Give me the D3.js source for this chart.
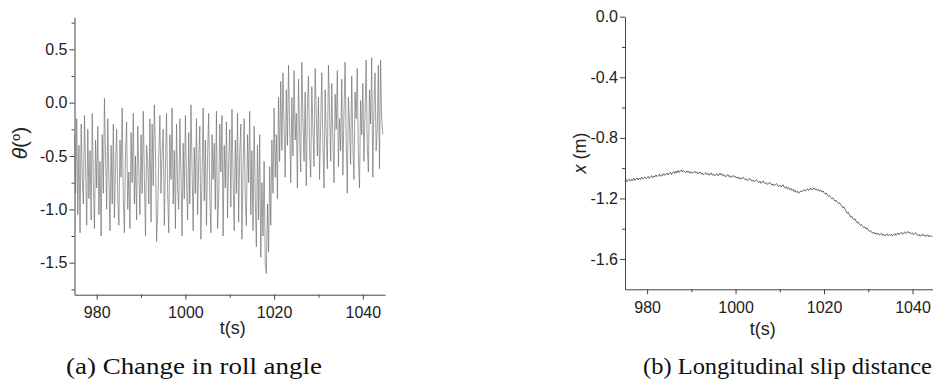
<!DOCTYPE html>
<html>
<head>
<meta charset="utf-8">
<script src="https://cdn.jsdelivr.net/npm/d3@7"></script>
<style>
  body { margin: 0; background: #fff; }
  svg { display: block; }
</style>
</head>
<body>
<script>
// both records start at 975 s, sampled every 0.25 s
const t0 = 975, step = 0.25;

// (a) roll angle, degrees
const roll = [
  -0.30,-0.85,-0.15,-1.05,-0.40,-1.22,-0.20,-0.70,-0.95,-0.12,-0.60,-1.15,-0.25,-0.90,-0.45,-1.10,-0.10,-0.75,-1.18,-0.35,
  -0.80,-0.22,-1.05,-0.55,-1.25,-0.30,-0.85,0.04,-0.50,-1.00,-0.15,-0.70,-1.20,-0.40,-0.95,-0.20,-1.08,-0.60,-0.25,-0.88,
  -1.15,-0.35,-0.70,-0.05,-0.90,-1.22,-0.45,-0.18,-1.00,-0.65,-1.18,-0.28,-0.75,-0.10,-0.95,-0.50,-1.10,-0.22,-0.62,-1.05,
  -0.30,-0.85,-0.08,-0.70,-1.25,-0.40,-0.55,-0.95,-0.15,-1.12,-0.20,-0.78,-0.02,-0.45,-1.30,-1.05,-0.50,-0.12,-0.85,-0.48,
  -0.25,-1.15,-0.60,-0.10,-0.85,-1.22,-0.30,-0.72,-0.05,-0.95,-0.45,-1.18,-0.20,-0.80,-1.00,-0.15,-0.68,-1.25,-0.38,-0.90,
  -0.12,-0.75,-1.10,-0.28,-0.95,-0.02,-0.60,-1.20,-0.42,-0.85,-0.15,-1.05,-0.55,-0.22,-1.28,-0.70,-0.05,-0.92,-0.35,-1.15,
  -0.50,-0.10,-0.88,-1.22,-0.30,-0.72,-0.38,-1.00,-0.08,-1.18,-0.90,-0.20,-0.65,-0.12,-1.25,-0.40,-0.80,-0.18,-1.08,-0.55,
  -0.25,-0.98,-0.06,-0.70,-1.20,-0.35,-0.85,-0.10,-1.12,-0.48,-0.20,-1.28,-0.62,-0.15,-0.92,-1.15,-0.30,-0.75,-0.08,-1.05,
  -0.45,-1.20,-0.22,-0.90,-1.35,-0.40,-1.10,-0.30,-1.45,-0.75,-1.25,-0.55,-1.50,-1.60,-0.95,-1.40,-0.60,-1.15,-0.35,-0.85,
  -0.05,-0.70,-0.30,-0.90,0.05,-0.55,0.20,-0.45,0.28,-0.25,-0.70,0.12,-0.40,0.35,-0.20,-0.75,0.05,-0.50,0.30,-0.35,
  -0.10,-0.80,0.22,-0.30,-0.65,0.38,-0.15,-0.55,0.10,-0.78,-0.05,0.25,-0.45,-0.70,0.15,-0.25,-0.60,0.32,-0.10,-0.50,
  0.05,-0.72,-0.20,0.28,-0.40,-0.80,0.12,-0.30,-0.62,0.35,-0.05,-0.55,0.18,-0.35,-0.75,0.08,-0.25,0.30,-0.60,-0.15,
  -0.45,0.22,-0.68,-0.10,0.38,-0.35,-0.85,0.05,-0.20,-0.58,0.25,-0.40,-0.72,0.10,-0.15,0.32,-0.50,-0.80,0.02,-0.30,
  0.18,-0.55,-0.10,0.40,-0.40,-0.65,0.12,-0.20,0.42,-0.70,-0.05,0.28,-0.45,-0.25,0.35,-0.62,0.40,-0.15,-0.30
];

// (b) longitudinal slip, metres
const slip = [
  -1.088,-1.075,-1.090,-1.078,-1.072,-1.086,-1.074,-1.082,-1.068,-1.080,-1.071,-1.064,-1.078,-1.066,-1.075,-1.060,-1.072,-1.063,-1.058,-1.070,
  -1.062,-1.054,-1.068,-1.057,-1.050,-1.063,-1.052,-1.058,-1.045,-1.056,-1.048,-1.040,-1.054,-1.043,-1.050,-1.036,-1.047,-1.040,-1.032,-1.045,
  -1.036,-1.028,-1.042,-1.030,-1.024,-1.036,-1.020,-1.031,-1.015,-1.028,-1.018,-1.012,-1.026,-1.016,-1.024,-1.030,-1.018,-1.028,-1.022,-1.034,
  -1.024,-1.035,-1.027,-1.020,-1.033,-1.025,-1.038,-1.030,-1.026,-1.040,-1.031,-1.044,-1.036,-1.030,-1.042,-1.034,-1.047,-1.038,-1.032,-1.046,
  -1.040,-1.052,-1.044,-1.036,-1.050,-1.042,-1.032,-1.046,-1.038,-1.052,-1.045,-1.058,-1.049,-1.043,-1.056,-1.050,-1.062,-1.054,-1.048,-1.060,
  -1.055,-1.066,-1.058,-1.070,-1.062,-1.074,-1.066,-1.060,-1.072,-1.078,-1.070,-1.082,-1.075,-1.068,-1.080,-1.086,-1.078,-1.090,-1.083,-1.076,
  -1.088,-1.095,-1.086,-1.100,-1.092,-1.085,-1.098,-1.104,-1.096,-1.108,-1.100,-1.094,-1.106,-1.112,-1.104,-1.116,-1.108,-1.102,-1.114,-1.120,
  -1.112,-1.124,-1.118,-1.110,-1.126,-1.132,-1.122,-1.136,-1.128,-1.142,-1.134,-1.148,-1.140,-1.155,-1.146,-1.160,-1.152,-1.166,-1.158,-1.150,
  -1.156,-1.148,-1.142,-1.152,-1.144,-1.136,-1.148,-1.140,-1.132,-1.144,-1.138,-1.130,-1.142,-1.136,-1.148,-1.140,-1.152,-1.146,-1.158,-1.150,
  -1.162,-1.170,-1.164,-1.178,-1.186,-1.180,-1.194,-1.202,-1.196,-1.210,-1.218,-1.212,-1.226,-1.234,-1.228,-1.240,-1.250,-1.262,-1.256,-1.272,
  -1.284,-1.298,-1.292,-1.310,-1.322,-1.316,-1.334,-1.340,-1.335,-1.350,-1.362,-1.356,-1.370,-1.378,-1.372,-1.386,-1.394,-1.388,-1.402,-1.396,
  -1.410,-1.418,-1.412,-1.424,-1.430,-1.422,-1.434,-1.428,-1.438,-1.430,-1.442,-1.436,-1.430,-1.444,-1.436,-1.448,-1.440,-1.434,-1.446,-1.438,
  -1.444,-1.436,-1.448,-1.440,-1.432,-1.444,-1.436,-1.428,-1.440,-1.432,-1.424,-1.436,-1.428,-1.420,-1.432,-1.424,-1.418,-1.430,-1.424,-1.434,
  -1.428,-1.440,-1.432,-1.426,-1.438,-1.446,-1.438,-1.450,-1.442,-1.436,-1.448,-1.440,-1.452,-1.446,-1.440,-1.454,-1.446,-1.452,-1.448
];

const timeTicks = [980, 1000, 1020, 1040];
const timeMinor = [990, 1010, 1030];
const rollTicks = [-1.5, -1.0, -0.5, 0.0, 0.5];
const rollMinor = [-1.75, -1.25, -0.75, -0.25, 0.25, 0.75];
const slipTicks = [-1.6, -1.2, -0.8, -0.4, 0.0];
const slipMinor = [-1.4, -1.0, -0.6, -0.2];
const captions = ["(a) Change in roll angle", "(b) Longitudinal slip distance"];

const svg = d3.select("body").append("svg")
    .attr("width", 933).attr("height", 391)
    .style("font-family", "'Liberation Sans', Arial, sans-serif");

function panel(o) {
    const x = d3.scaleLinear().domain([975, 1045]).range([o.left, o.right]);
    const y = d3.scaleLinear().domain(o.yDomain).range([o.bottom, o.top]);
    const g = svg.append("g");

    // minor ticks
    g.append("g").attr("transform", "translate(0," + o.bottom + ")")
        .call(d3.axisBottom(x).tickValues(timeMinor).tickSize(3).tickFormat(""))
        .call(a => a.select(".domain").remove());
    g.append("g").attr("transform", "translate(" + o.left + ",0)")
        .call(d3.axisLeft(y).tickValues(o.minor).tickSize(3).tickFormat(""))
        .call(a => a.select(".domain").remove());

    // major ticks + axis lines
    g.append("g").attr("transform", "translate(0," + o.bottom + ")")
        .call(d3.axisBottom(x).tickValues(timeTicks).tickSize(5).tickSizeOuter(0).tickPadding(7)
            .tickFormat(d3.format("d")));
    g.append("g").attr("transform", "translate(" + o.left + ",0)")
        .call(d3.axisLeft(y).tickValues(o.ticks).tickSize(5).tickSizeOuter(0).tickPadding(2)
            .tickFormat(d => d.toFixed(1)));

    g.selectAll(".domain, .tick line").attr("stroke", "#444");
    g.selectAll(".tick text")
        .attr("fill", "#222")
        .style("font-size", "16px")
        .style("font-family", "'Liberation Sans', Arial, sans-serif");

    const line = d3.line()
        .x((d, i) => x(t0 + i * step))
        .y(d => y(d));
    g.append("path")
        .datum(o.values)
        .attr("d", line)
        .attr("fill", "none")
        .attr("stroke", o.color)
        .attr("stroke-width", o.width);

    g.append("text")
        .attr("x", (o.left + x(1045)) / 2 + o.xLabelShift)
        .attr("y", o.bottom + o.xLabelDrop)
        .attr("text-anchor", "middle")
        .style("font-size", "18px")
        .attr("fill", "#222")
        .text("t(s)");

    const yl = g.append("text")
        .attr("transform", "translate(" + o.yLabel[0] + "," + o.yLabel[1] + ") rotate(-90)")
        .attr("text-anchor", "middle")
        .style("font-size", o.yLabelSize)
        .attr("fill", "#222");
    o.yText(yl);
    return g;
}

panel({
    left: 74.5, right: 385, top: 17.3, bottom: 294.7,
    yDomain: [-1.8, 0.8], ticks: rollTicks, minor: rollMinor,
    values: roll, color: "#6a6a6a", width: 0.65,
    xLabelShift: 3, xLabelDrop: 39, yLabel: [27, 143], yLabelSize: "21px",
    yText: t => {
        t.append("tspan").style("font-style", "italic").text("θ");
        t.append("tspan").text("(");
        t.append("tspan").style("font-size", "13px").attr("dy", -7).text("o");
        t.append("tspan").attr("dy", 7).text(")");
    }
});

panel({
    left: 625, right: 934.6, top: 16.7, bottom: 289.3,
    yDomain: [-1.8, 0.0], ticks: slipTicks, minor: slipMinor,
    values: slip, color: "#333", width: 0.75,
    xLabelShift: -17, xLabelDrop: 46, yLabel: [586, 153], yLabelSize: "18px",
    yText: t => {
        t.append("tspan").style("font-style", "italic").text("x");
        t.append("tspan").text(" (m)");
    }
});

// sub-figure captions
svg.selectAll(".caption")
    .data(captions)
    .enter().append("text")
    .attr("class", "caption")
    .attr("x", (d, i) => i === 0 ? 66 : 643)
    .attr("y", 374)
    .attr("textLength", (d, i) => i === 0 ? 256 : 289)
    .attr("lengthAdjust", "spacingAndGlyphs")
    .style("font-family", "'Liberation Serif', 'Times New Roman', serif")
    .style("font-size", "23px")
    .attr("fill", "#111")
    .text(d => d);
</script>
</body>
</html>
